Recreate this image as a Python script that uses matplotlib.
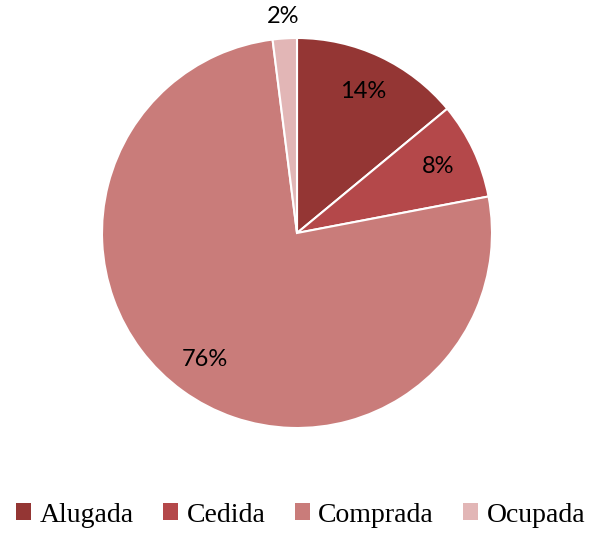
import matplotlib
matplotlib.use("Agg")
import matplotlib.pyplot as plt
import numpy as np

categories = ["Alugada", "Cedida", "Comprada", "Ocupada"]
values = [14, 8, 76, 2]
colors = ["#943634", "#B4484A", "#C97C7A", "#E2B6B6"]

fig = plt.figure(figsize=(5.98, 5.34), dpi=100)
ax = fig.add_axes([(297 - 195) / 598, (534 - 428) / 534, 390 / 598, 390 / 534])

wedges, texts, autotexts = ax.pie(
    values, colors=colors, startangle=90, counterclock=False,
    autopct=lambda p: f"{p:.0f}%", pctdistance=0.8,
    wedgeprops=dict(edgecolor="white", linewidth=1.5),
    textprops=dict(fontsize=17, family=["Lato", "DejaVu Sans"], color="black"),
)
# small slice label sits outside
w = wedges[3]
ang = np.deg2rad((w.theta1 + w.theta2) / 2)
autotexts[3].set_position((1.11 * np.cos(ang), 1.11 * np.sin(ang)))
ax.set_aspect("equal")
ax.set_xlim(-1, 1)
ax.set_ylim(-1, 1)

leg = fig.legend(wedges, categories, loc="center", bbox_to_anchor=(0.503, 1 - 515 / 534),
                 ncol=4, frameon=False, handlelength=0.55, handleheight=0.55,
                 handletextpad=0.3, columnspacing=1.05,
                 prop=dict(family="Liberation Serif", size=20))
for h in leg.legend_handles:
    h.set_edgecolor("none")

fig.savefig("out.png", dpi=100)
